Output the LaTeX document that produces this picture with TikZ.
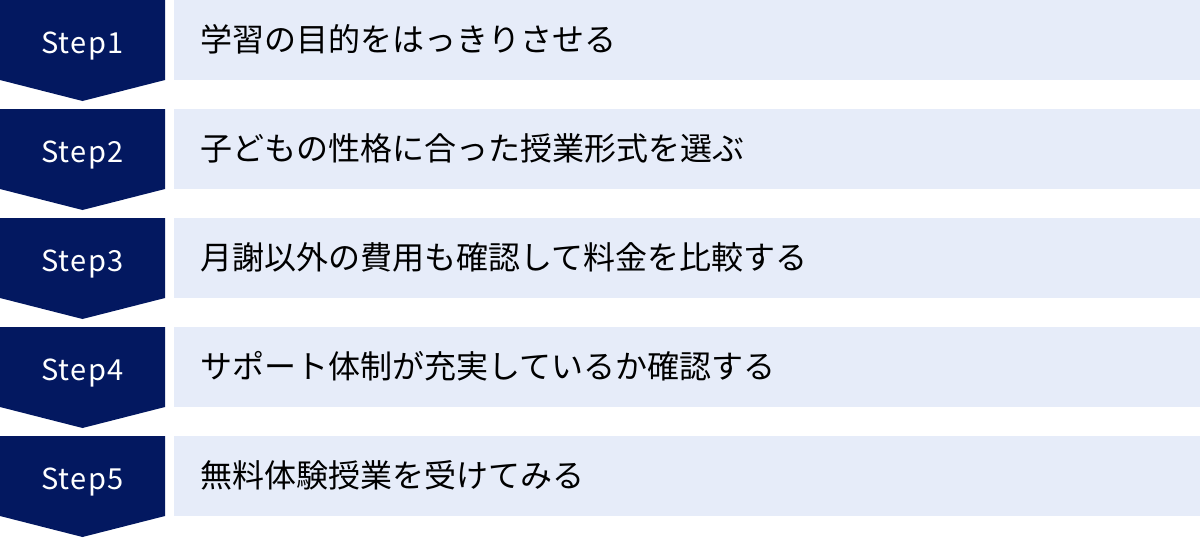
\documentclass[tikz,border=0pt]{standalone}
\usepackage{fontspec}
\setmainfont{Noto Sans CJK JP}
\newfontfamily\jpfont{Noto Sans CJK JP}
\newfontfamily\stepfont[LetterSpace=5]{Noto Sans CJK JP}
\definecolor{navy}{RGB}{3,24,96}
\definecolor{pale}{RGB}{230,236,249}
\begin{document}
\begin{tikzpicture}[x=1pt,y=-1pt,
  chev/.style={fill=navy,draw=none},
  textbox/.style={fill=pale,draw=none},
  steplabel/.style={text=white,font=\stepfont\fontsize{29}{34}\selectfont,anchor=base,inner sep=0pt},
  desc/.style={text=black,font=\jpfont\fontsize{32}{38}\selectfont,anchor=base west,inner sep=0pt}]
\useasboundingbox (0,0) rectangle (1200,538);
\foreach \i/\t in {0/{学習の目的をはっきりさせる},1/{子どもの性格に合った授業形式を選ぶ},2/{月謝以外の費用も確認して料金を比較する},3/{サポート体制が充実しているか確認する},4/{無料体験授業を受けてみる}}{
  \pgfmathsetmacro{\yy}{\i*109}
  \pgfmathtruncatemacro{\n}{\i+1}
  \fill[chev] (0,\yy) -- (165,\yy) -- (165,\yy+80) -- (82.5,\yy+101) -- (0,\yy+80) -- cycle;
  \fill[textbox] (174,\yy) rectangle (1200,\yy+80);
  \node[steplabel] (s\n) at (82.5,\yy+53) {Step\n};
  \node[desc] (d\n) at (200,\yy+51) {\t};
}
\end{tikzpicture}
\end{document}
